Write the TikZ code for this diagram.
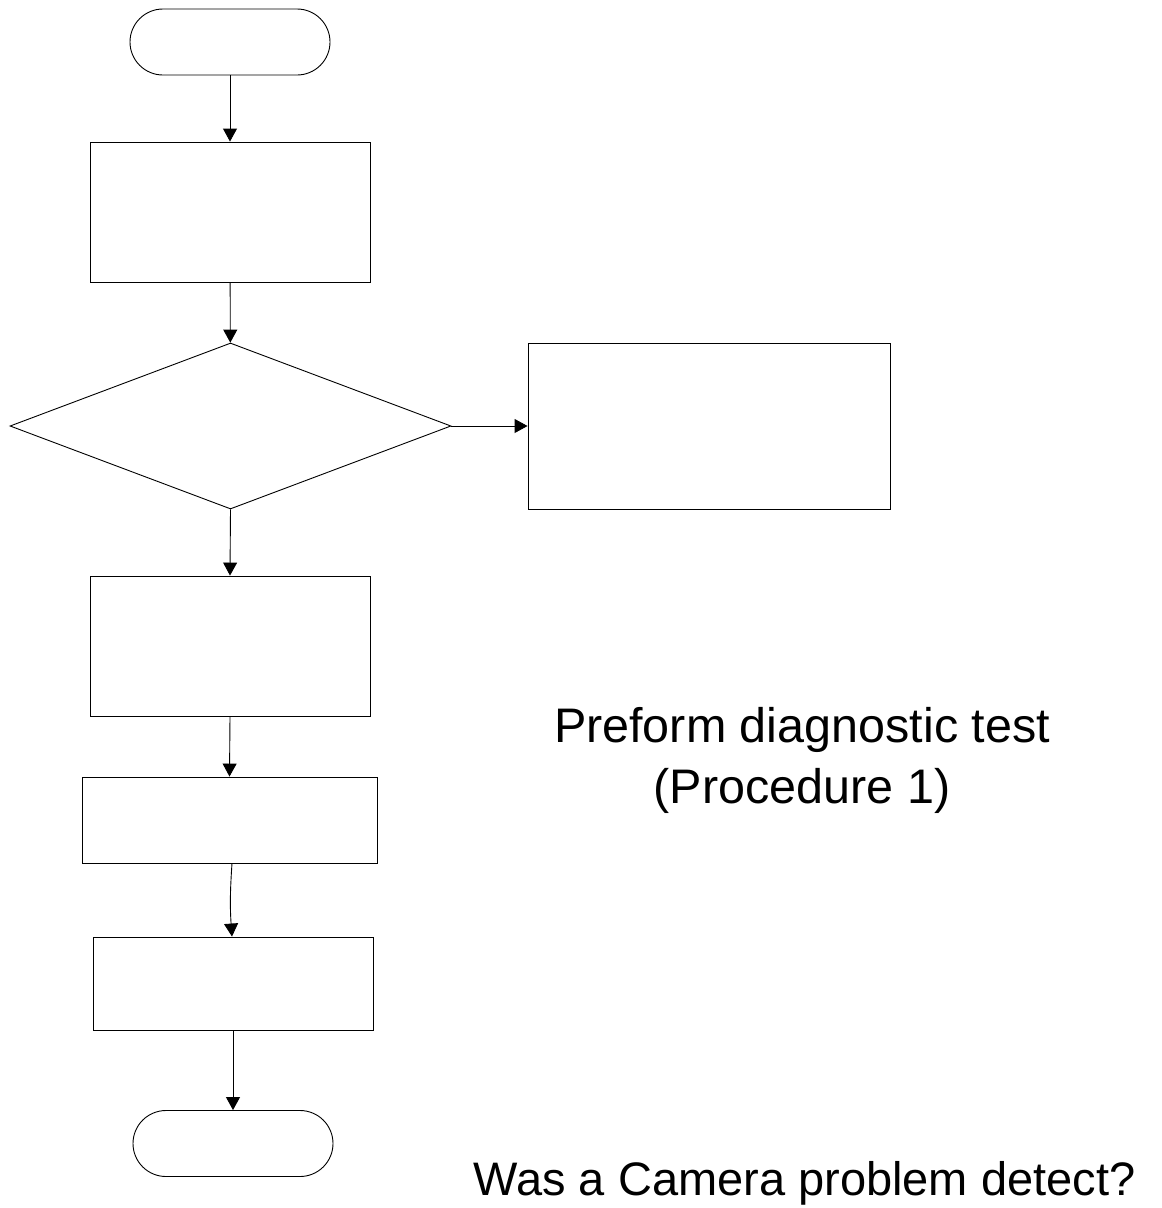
\documentclass[tikz,border=0pt]{standalone}
\usepackage{fontspec}
\setmainfont{Liberation Sans}
\usetikzlibrary{shapes.misc,shapes.geometric,arrows.meta}
\begin{document}
\begin{tikzpicture}[x=1pt,y=-1pt,
  line width=0.9pt,
  proc/.style={draw,rectangle,inner sep=0pt},
  term/.style={draw,rounded rectangle,inner sep=0pt,minimum width=200pt,minimum height=66pt},
  decis/.style={draw,diamond,inner sep=0pt,minimum width=441pt,minimum height=166pt},
  flow/.style={-{Triangle[width=14pt,length=13pt]}},
  lbl/.style={align=center,font=\fontsize{48.5}{61}\selectfont}]
\useasboundingbox (0,0) rectangle (1162,1208);
\node[term] (start) at (230,42) {};
\node[proc,minimum width=280pt,minimum height=140pt] (b1) at (230,212) {};
\node[decis] (d) at (230.5,426) {};
\node[proc,minimum width=362pt,minimum height=166pt] (r) at (709,426) {};
\node[proc,minimum width=280pt,minimum height=140pt] (b3) at (230,646) {};
\node[proc,minimum width=295pt,minimum height=86pt] (b4) at (229.5,820) {};
\node[proc,minimum width=280pt,minimum height=93pt] (b5) at (233,983.5) {};
\node[term] (stop) at (233,1143.5) {};
\node[lbl] (t1) at (802,760) {Preform diagnostic test\\(Procedure 1)};
\node[anchor=base,font=\fontsize{47}{56}\selectfont] (t2) at (804.5,1195) {Was a Camera problem detect?};
\draw[flow] (start) -- (b1);
\draw[flow] (b1) -- (d);
\draw[flow] (d.east) -- (r.west);
\draw[flow] (d.south) -- (b3.north);
\draw[flow] (b3.south) -- (b4.north);
\draw[flow] ([xshift=2.5pt]b4.south) to[bend right=4] ([xshift=-1pt]b5.north);
\draw[flow] (b5.south) -- (stop.north);
\end{tikzpicture}
\end{document}
